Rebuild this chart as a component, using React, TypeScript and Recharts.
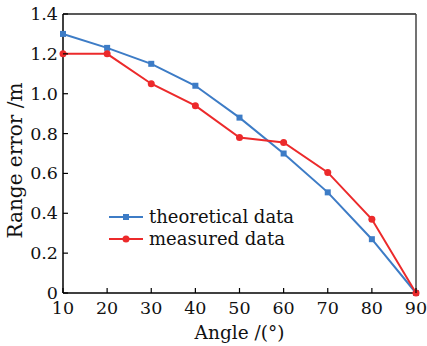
import { LineChart, Line, XAxis, YAxis, Legend, ReferenceLine } from "recharts";

const angles = [10, 20, 30, 40, 50, 60, 70, 80, 90];
const theoretical = [1.3, 1.23, 1.15, 1.04, 0.88, 0.7, 0.505, 0.27, 0];
const measured = [1.2, 1.2, 1.05, 0.94, 0.78, 0.755, 0.605, 0.37, 0];
const xTicks = [10, 20, 30, 40, 50, 60, 70, 80, 90];
const yTicks = [0, 0.2, 0.4, 0.6, 0.8, 1.0, 1.2, 1.4];

const data = angles.map((a, i) => ({
  angle: a,
  theoretical: theoretical[i],
  measured: measured[i],
}));

const BLUE = "#3d7cc6";
const RED = "#ec2a2b";
const FONT = "'DejaVu Serif', serif";

const YTick = (props: any) => {
  const { x, y, payload } = props;
  const v = payload.value;
  return (
    <g>
      <line x1={x + 5} x2={x + 10} y1={y} y2={y} stroke="#000" strokeWidth={1.2} />
      <text x={x} y={y} dy={6} textAnchor="end" fontSize={17.5} fontFamily={FONT} fill="#111">
        {v === 0 ? "0" : v.toFixed(1)}
      </text>
    </g>
  );
};

const XTick = (props: any) => {
  const { x, y, payload } = props;
  return (
    <g>
      <line x1={x} x2={x} y1={y - 4} y2={y - 9} stroke="#000" strokeWidth={1.2} />
      <text x={x} y={y} dy={17} textAnchor="middle" fontSize={17.5} fontFamily={FONT} fill="#111">
        {payload.value}
      </text>
    </g>
  );
};

const SquareDot = (props: any) => {
  const { cx, cy } = props;
  return <rect x={cx - 3} y={cy - 3} width={6} height={6} fill={BLUE} />;
};

const RoundDot = (props: any) => {
  const { cx, cy } = props;
  return <circle cx={cx} cy={cy} r={3.5} fill={RED} />;
};

const LegendContent = () => (
  <div style={{ fontFamily: FONT, fontSize: 18, color: "#111", lineHeight: "22px" }}>
    {[
      { name: "theoretical data", color: BLUE, square: true },
      { name: "measured data", color: RED, square: false },
    ].map((it) => (
      <div key={it.name} style={{ display: "flex", alignItems: "center" }}>
        <svg width={40} height={12}>
          <line x1={0} x2={34} y1={6} y2={6} stroke={it.color} strokeWidth={2} />
          {it.square ? (
            <rect x={14} y={3} width={6} height={6} fill={it.color} />
          ) : (
            <circle cx={17} cy={6} r={3.5} fill={it.color} />
          )}
        </svg>
        <span>{it.name}</span>
      </div>
    ))}
  </div>
);

export default function App() {
  return (
    <div style={{ position: "absolute", left: 0, top: 0, background: "#fff" }}>
      <LineChart
        width={427}
        height={346}
        data={data}
        margin={{ top: 14, right: 11, left: 0, bottom: 0 }}
      >
        <XAxis
          dataKey="angle"
          type="number"
          domain={[10, 90]}
          ticks={xTicks}
          tickSize={0}
          tickMargin={4}
          tickLine={false}
          tick={<XTick />}
          axisLine={{ stroke: "#000", strokeWidth: 1.5 }}
          height={53}
          label={{
            value: "Angle /(°)",
            position: "insideBottom",
            offset: 7,
            style: { fontFamily: FONT, fontSize: 18.5, fill: "#111" },
          }}
        />
        <YAxis
          type="number"
          domain={[0, 1.4]}
          ticks={yTicks}
          tickSize={0}
          tickMargin={5}
          tickLine={false}
          tick={<YTick />}
          axisLine={{ stroke: "#000", strokeWidth: 1.5 }}
          width={63}
          label={{
            value: "Range error /m",
            angle: -90,
            position: "insideLeft",
            offset: 0,
            dx: 15,
            dy: 7,
            style: { fontFamily: FONT, fontSize: 20, fill: "#111", textAnchor: "middle" },
          }}
        />
        <ReferenceLine y={1.4} stroke="#222" strokeWidth={1.5} />
        <ReferenceLine x={90} stroke="#444" strokeWidth={1.5} />
        <Line
          dataKey="theoretical"
          stroke={BLUE}
          strokeWidth={2}
          dot={<SquareDot />}
          isAnimationActive={false}
        />
        <Line
          dataKey="measured"
          stroke={RED}
          strokeWidth={2}
          dot={<RoundDot />}
          isAnimationActive={false}
        />
        <Legend
          content={<LegendContent />}
          layout="horizontal"
          verticalAlign="middle"
          align="center"
          wrapperStyle={{ left: 109, top: 206, width: "auto" }}
        />
      </LineChart>
    </div>
  );
}
